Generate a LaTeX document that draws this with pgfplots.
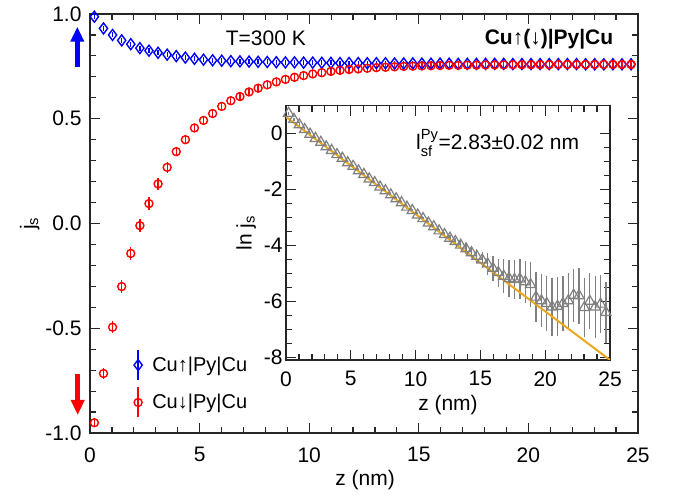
\documentclass[border=0pt]{standalone}
\usepackage{fontspec}
\setmainfont{Liberation Sans}
\usepackage{amsmath}
\usepackage{pgfplots}
\pgfplotsset{compat=1.18}
\usepackage{pgfplotstable}
\usetikzlibrary{arrows.meta}
\definecolor{fitorange}{RGB}{236,168,28}
\definecolor{trigray}{RGB}{128,128,128}
\newcommand{\fs}{\fontsize{21bp}{25bp}\selectfont}
\newcommand{\fl}{\fontsize{20bp}{24bp}\selectfont}

\pgfplotstableread{
z up eu dn ed
0.200 0.987 0.012 -0.951 0.020
0.615 0.931 0.012 -0.716 0.024
1.030 0.900 0.012 -0.495 0.028
1.445 0.874 0.012 -0.301 0.030
1.860 0.856 0.012 -0.143 0.032
2.275 0.837 0.012 -0.010 0.030
2.690 0.825 0.012 0.095 0.030
3.105 0.815 0.012 0.189 0.028
3.520 0.806 0.012 0.268 0.025
3.935 0.799 0.012 0.343 0.022
4.350 0.792 0.012 0.400 0.020
4.765 0.786 0.012 0.456 0.016
5.180 0.782 0.012 0.492 0.016
5.595 0.779 0.012 0.525 0.016
6.010 0.777 0.012 0.559 0.016
6.425 0.775 0.012 0.586 0.016
6.840 0.774 0.012 0.606 0.016
7.255 0.773 0.012 0.628 0.016
7.670 0.772 0.012 0.646 0.016
8.085 0.771 0.012 0.662 0.016
8.500 0.770 0.012 0.676 0.016
8.915 0.769 0.012 0.688 0.016
9.330 0.769 0.012 0.698 0.016
9.745 0.768 0.012 0.706 0.016
10.160 0.768 0.012 0.714 0.016
10.575 0.767 0.012 0.720 0.016
10.990 0.767 0.012 0.726 0.016
11.405 0.766 0.012 0.731 0.016
11.820 0.766 0.012 0.735 0.016
12.235 0.766 0.012 0.738 0.016
12.650 0.765 0.012 0.741 0.016
13.065 0.765 0.012 0.744 0.016
13.480 0.765 0.012 0.746 0.016
13.895 0.764 0.012 0.748 0.016
14.310 0.764 0.012 0.750 0.016
14.725 0.764 0.012 0.751 0.016
15.140 0.763 0.012 0.752 0.016
15.555 0.763 0.012 0.753 0.016
15.970 0.763 0.012 0.754 0.016
16.385 0.763 0.012 0.755 0.016
16.800 0.762 0.012 0.755 0.016
17.215 0.762 0.012 0.756 0.016
17.630 0.762 0.012 0.756 0.016
18.045 0.762 0.012 0.757 0.016
18.460 0.762 0.012 0.757 0.016
18.875 0.762 0.012 0.757 0.016
19.290 0.761 0.012 0.758 0.016
19.705 0.761 0.012 0.758 0.016
20.120 0.761 0.012 0.758 0.016
20.535 0.761 0.012 0.758 0.016
20.950 0.761 0.012 0.758 0.016
21.365 0.761 0.012 0.759 0.016
21.780 0.761 0.012 0.759 0.016
22.195 0.761 0.012 0.759 0.016
22.610 0.760 0.012 0.759 0.016
23.025 0.760 0.012 0.759 0.016
23.440 0.760 0.012 0.759 0.016
23.855 0.760 0.012 0.759 0.016
24.270 0.760 0.012 0.759 0.016
24.685 0.760 0.012 0.759 0.016
}\maindata

\pgfplotstableread{
z y e
0.200 0.73 0.05
0.615 0.51 0.05
1.030 0.32 0.05
1.445 0.15 0.05
1.860 -0.02 0.05
2.275 -0.17 0.05
2.690 -0.31 0.05
3.105 -0.47 0.05
3.520 -0.60 0.05
3.935 -0.75 0.05
4.350 -0.88 0.05
4.765 -1.04 0.05
5.180 -1.17 0.05
5.595 -1.33 0.05
6.010 -1.46 0.05
6.425 -1.62 0.05
6.840 -1.75 0.05
7.255 -1.91 0.05
7.670 -2.04 0.05
8.085 -2.19 0.05
8.500 -2.33 0.05
8.915 -2.47 0.05
9.330 -2.63 0.05
9.745 -2.75 0.05
10.160 -2.91 0.05
10.575 -3.04 0.05
10.990 -3.20 0.05
11.405 -3.33 0.05
11.820 -3.48 0.06
12.235 -3.61 0.08
12.650 -3.74 0.10
13.065 -3.86 0.12
13.480 -3.99 0.14
13.895 -4.12 0.17
14.310 -4.26 0.20
14.725 -4.39 0.25
15.140 -4.52 0.30
15.555 -4.66 0.40
15.970 -4.82 0.45
16.385 -4.97 0.50
16.800 -5.10 0.60
17.215 -5.18 0.65
17.630 -5.22 0.70
18.045 -5.20 0.70
18.460 -5.30 0.75
18.875 -5.40 0.80
19.290 -5.85 0.90
19.705 -5.98 0.95
20.120 -6.08 1.00
20.535 -6.20 1.05
20.950 -6.18 1.05
21.365 -6.08 1.00
21.780 -5.98 1.00
22.195 -5.78 0.95
22.610 -5.80 1.00
23.025 -6.22 1.05
23.440 -6.00 1.00
23.855 -6.20 1.10
24.270 -6.10 1.05
24.685 -6.40 1.10
}\insetdata

\pgfplotsset{
  myaxis/.style={
    scale only axis, tick align=inside, xmin=0, xmax=25,
    axis line style={line width=1.3bp, black!85},
    tick style={line width=1.2bp, black!85},
    major tick length=10bp, minor tick length=6bp,
    tick label style={font=\fs},
    label style={font=\fs},
    /pgf/number format/assume math mode=true,
    xtick={0,5,...,25}, minor x tick num=4,
  }
}

\begin{document}
\begin{tikzpicture}
\path[use as bounding box] (-90bp,-65bp) rectangle (588bp,433bp);
\begin{axis}[myaxis, name=main, at={(0,0)}, anchor=south west,
  width=548bp, height=419bp, ymin=-1, ymax=1,
  ytick={-1,-0.5,0,0.5,1}, minor y tick num=4,
  y tick label style={/pgf/number format/fixed, /pgf/number format/fixed zerofill, /pgf/number format/precision=1, xshift=-5bp},
  x tick label style={yshift=-11bp},
  xlabel={z (nm)}, ylabel={j\textsubscript{s}},
  xlabel style={at={(axis description cs:0.502,-0.112)}, anchor=center},
  ylabel style={at={(axis description cs:-0.11,0.5)}, anchor=center},
  clip=false,
  legend style={draw=none, fill=none, font=\fl, at={(axis cs:2.0,-0.765)}, anchor=west, row sep=6bp, column sep=8bp, inner sep=0pt, nodes={inner sep=2bp}},
  legend cell align=left]
\addplot[only marks, blue, mark=diamond, mark size=5.5bp, line width=1.4bp,
  legend image code/.code={\draw[blue,line width=1.4bp] (0bp,-15bp)--(0bp,15bp);
    \draw[blue,line width=1.4bp,mark=diamond,mark size=5.5bp] plot coordinates {(0bp,0bp)};},
  error bars/.cd, y dir=both, y explicit, error mark=none, error bar style={line width=1.3bp}]
  table[x=z, y=up, y error=eu] {\maindata};
\addlegendentry{Cu↑|Py|Cu}
\addplot[only marks, red, mark=o, mark size=4bp, line width=1.4bp,
  legend image code/.code={\draw[red,line width=1.4bp] (0bp,-15bp)--(0bp,15bp);
    \draw[red,line width=1.4bp,mark=o,mark size=4bp] plot coordinates {(0bp,0bp)};},
  error bars/.cd, y dir=both, y explicit, error mark=none, error bar style={line width=1.3bp}]
  table[x=z, y=dn, y error=ed] {\maindata};
\addlegendentry{Cu↓|Py|Cu}
\end{axis}

\node[font=\fs, anchor=base] at (175.8bp,387.5bp) {T=300 K};
\node[font=\fs\bfseries, anchor=base east] at (526.7bp,388.5bp) {Cu↑(↓)|Py|Cu};
\draw[blue, line width=5bp, -{Triangle[width=13bp,length=15bp]}] (-12.7bp,366.3bp) -- (-12.7bp,406.3bp);
\draw[red, line width=5bp, -{Triangle[width=13bp,length=15bp]}] (-12.3bp,59bp) -- (-12.3bp,18bp);

\begin{axis}[myaxis, at={(196bp,73bp)}, anchor=south west,
  width=324bp, height=254.3bp, ymin=-8.1, ymax=1,
  ytick={-8,-6,...,0}, minor y tick num=3,
  x tick label style={yshift=-8bp},
  xlabel={z (nm)}, ylabel={ln j\textsubscript{s}},
  xlabel style={at={(axis description cs:0.5,-0.177)}, anchor=center},
  ylabel style={at={(axis description cs:-0.123,0.5)}, anchor=center},
  axis background/.style={fill=white}]
\addplot[only marks, trigray, mark=triangle, mark size=6bp, line width=1.2bp,
  error bars/.cd, y dir=both, y explicit, error mark=none, error bar style={line width=1.3bp, trigray}]
  table[x=z, y=y, y error=e] {\insetdata};
\addplot[fitorange, line width=2bp, no marks] coordinates {(0,0.6) (25,-8.1)};
\end{axis}
\node[font=\fs, anchor=base west] at (322.7bp,283bp) {l$^{\text{Py}}_{\text{sf}}$=2.83±0.02 nm};
\end{tikzpicture}
\end{document}
